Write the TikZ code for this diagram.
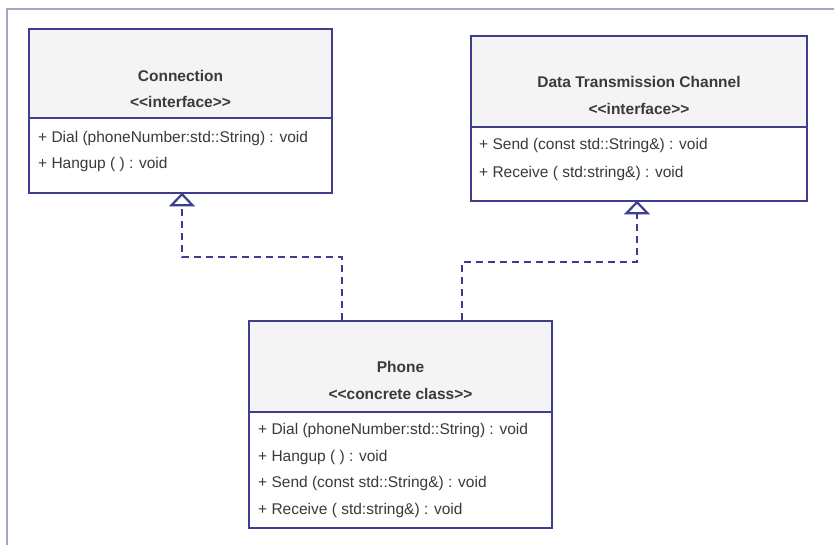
\documentclass[tikz,border=0pt]{standalone}
\usepackage{fontspec}
\setmainfont[Ligatures=NoCommon]{Liberation Sans}
\usetikzlibrary{arrows.meta}
\definecolor{umlblue}{HTML}{3E3E8E}
\definecolor{frameblue}{HTML}{A4A4C4}
\definecolor{txt}{HTML}{3A3A3A}
\definecolor{headfill}{HTML}{F4F4F4}
\newcommand{\stOpen}{{<}{<}}
\newcommand{\stClose}{{>}{>}}
\begin{document}
\begin{tikzpicture}[x=1pt,y=-1pt,
  classbox/.style={draw=umlblue,line width=2.4pt,fill=none,inner sep=0pt},
  sep/.style={draw=umlblue,line width=2.2pt},
  ttl/.style={inner sep=0pt,text=txt,font=\fontsize{15.5}{17}\selectfont\bfseries},
  meth/.style={inner sep=0pt,anchor=west,text=txt,font=\fontsize{15.5}{17}\selectfont},
  dep/.style={draw=umlblue,line width=2.4pt,dash pattern=on 7pt off 5pt},
  tri/.style={draw=umlblue,line width=2.2pt,fill=white,line join=miter}]
\useasboundingbox (0,0) rectangle (834,544);
\fill[white] (0,0) rectangle (834,544);
% outer frame
\draw[frameblue,line width=2pt] (7,548) -- (7,9) -- (840,9);
% Connection
\fill[headfill] (29,29) rectangle (332,118);
\node[classbox,minimum width=303pt,minimum height=164pt] (conn) at (180.5,111) {};
\draw[sep] (29,118) -- (332,118);
\node[ttl] (connT) at (180.5,76) {Connection};
\node[ttl] (connS) at (180.5,102) {\stOpen interface\stClose};
\node[meth] (connM1) at (38,138) {+ Dial (phoneNumber:std::String) : void};
\node[meth] (connM2) at (38,164) {+ Hangup ( ) : void};
% Data Transmission Channel
\fill[headfill] (471,36) rectangle (807,127);
\node[classbox,minimum width=336pt,minimum height=165pt] (dtc) at (639,118.5) {};
\draw[sep] (471,127) -- (807,127);
\node[ttl] (dtcT) at (639,82) {Data Transmission Channel};
\node[ttl] (dtcS) at (639,109) {\stOpen interface\stClose};
\node[meth] (dtcM1) at (479,145) {+ Send (const std::String\&) : void};
\node[meth] (dtcM2) at (479,173) {+ Receive ( std:string\&) : void};
% Phone
\fill[headfill] (249,321) rectangle (552,412);
\node[classbox,minimum width=303pt,minimum height=207pt] (phone) at (400.5,424.5) {};
\draw[sep] (249,412) -- (552,412);
\node[ttl] (phT) at (400.5,367) {Phone};
\node[ttl] (phS) at (400.5,394) {\stOpen concrete class\stClose};
\node[meth] (phM1) at (258,430) {+ Dial (phoneNumber:std::String) : void};
\node[meth] (phM2) at (258,457) {+ Hangup ( ) : void};
\node[meth] (phM3) at (258,483) {+ Send (const std::String\&) : void};
\node[meth] (phM4) at (258,510) {+ Receive ( std:string\&) : void};
% connectors
\coordinate (k1) at (182,257);
\coordinate (k2) at (637,262);
\coordinate (b1) at (182,204);
\coordinate (b2) at (637,212);
\draw[dep] (phone.north -| 342,0) -- (342,257) -- (k1) -- (b1);
\draw[dep] (phone.north -| 462,0) -- (462,262) -- (k2) -- (b2);
\draw[tri] (conn.south -| k1) -- ++(-10.5,11) -- ++(21,0) -- cycle;
\draw[tri] (dtc.south -| k2) -- ++(-10.5,11) -- ++(21,0) -- cycle;
\end{tikzpicture}
\end{document}
